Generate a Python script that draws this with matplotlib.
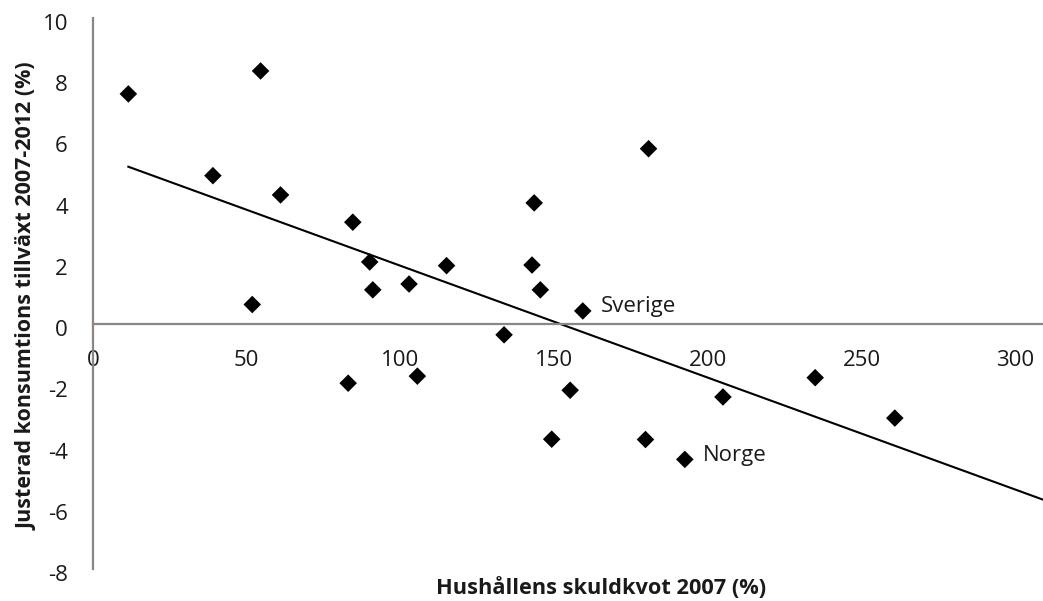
import numpy as np
import matplotlib.pyplot as plt
from matplotlib.transforms import ScaledTranslation

plt.rcParams['font.family'] = ['Open Sans', 'DejaVu Sans']
plt.rcParams['axes.unicode_minus'] = False

# Hushållens skuldkvot 2007 (%) och justerad konsumtionstillväxt 2007-2012 (%)
skuldkvot = [11.5, 54.5, 39.0, 61.0, 84.5, 90.0, 91.0, 102.8, 115.0, 51.8,
             143.5, 142.8, 145.5, 159.3, 133.7, 180.7, 83.0, 105.5, 155.2,
             149.2, 179.7, 192.5, 204.9, 234.9, 260.8]
tillvaxt = [7.52, 8.27, 4.85, 4.22, 3.33, 2.03, 1.12, 1.31, 1.91, 0.64,
            3.96, 1.93, 1.12, 0.43, -0.35, 5.73, -1.93, -1.70, -2.16,
            -3.76, -3.77, -4.42, -2.38, -1.75, -3.07]

etiketter = {'Sverige': 13, 'Norge': 21}

fig = plt.figure(figsize=(10.43, 6.01), dpi=100)
ax = fig.add_axes([93 / 1043, 32 / 601, 950 / 1043, 551 / 601])

# linjär trendlinje, förlängd till axelns slut
xmax = 309
k, m = np.polyfit(skuldkvot, tillvaxt, 1)
xs = np.array([min(skuldkvot), xmax])
ax.plot(xs, k * xs + m, color='black', lw=1.5, zorder=2)

ax.scatter(skuldkvot, tillvaxt, marker='D', s=80, color='black',
           edgecolors='none', zorder=3)

for namn, i in etiketter.items():
    ax.annotate(namn, (skuldkvot[i], tillvaxt[i]), xytext=(13, 3),
                textcoords='offset points', fontsize=16, color='#1a1a1a',
                va='center', ha='left')

ax.set_xlim(0, xmax)
ax.set_ylim(-8, 10)
ax.set_xticks(range(0, 301, 50))
ax.set_yticks(range(-8, 11, 2))

for side in ['top', 'right']:
    ax.spines[side].set_visible(False)
ax.spines['bottom'].set_position(('data', 0))
for side in ['left', 'bottom']:
    ax.spines[side].set_color('#8c8580')
    ax.spines[side].set_linewidth(1.6)

ax.tick_params(axis='both', length=0, labelsize=16, labelcolor='#1a1a1a')
ax.tick_params(axis='x', pad=19)
ax.tick_params(axis='y', pad=18)
for lbl in ax.get_yticklabels():
    lbl.set_transform(lbl.get_transform() + ScaledTranslation(0, -4 / 100, fig.dpi_scale_trans))

fig.text(601 / 1043, 1 - 588 / 601, 'Hushållens skuldkvot 2007 (%)',
         fontsize=15.7, fontweight='bold', ha='center', va='center', color='#1a1a1a')
fig.text(27 / 1043, 1 - 296 / 601, 'Justerad konsumtions tillväxt 2007-2012 (%)',
         fontsize=15.5, fontweight='bold', ha='center', va='center',
         rotation=90, color='#1a1a1a')

fig.savefig('out.png', dpi=100)
